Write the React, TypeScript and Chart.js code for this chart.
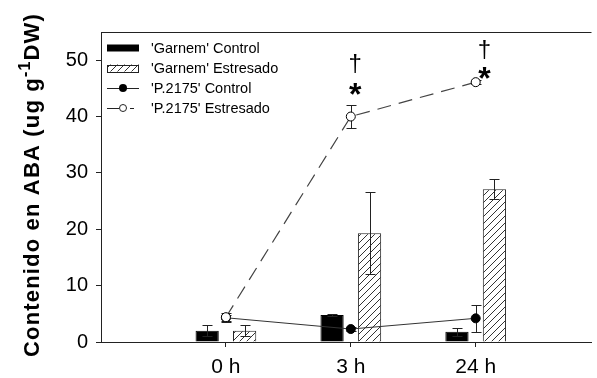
import React, { useEffect, useRef } from 'react';
import { Chart, registerables } from 'chart.js';
Chart.register(...registerables);

// ---- data ----
const xPositions = [1, 2, 3];
const xLabels = ['0 h', '3 h', '24 h'];
const yTickValues = [0, 10, 20, 30, 40, 50];
const seriesLabels = ["'Garnem' Control", "'Garnem' Estresado", "'P.2175' Control", "'P.2175' Estresado"];
const garnemControl = [2.0, 4.8, 1.8];
const garnemControlErr = [1.0, 0.2, 0.7];
const garnemStress = [2.0, 19.3, 27.1];
const garnemStressErr = [1.0, 7.3, 1.8];
const p2175Control = [4.3, 2.3, 4.2];
const p2175ControlErr = [0.5, 0.3, 2.4];
const p2175Stress = [4.4, 40.0, 46.1];
const p2175StressErr = [0.8, 2.1, 0.4];
const annotX = [2.035, 3.07];
const starY = [45.0, 47.9];
const daggerY = [49.3, 51.8];
const yTitleMain = 'Contenido en ABA (ug g';
const yTitleSup = '-1';
const yTitleEnd = 'DW)';

const FONT = '"Liberation Sans", Arial, sans-serif';
const INK = '#222';

function makeHatch(): CanvasPattern | string {
  const s = 7;
  const c = document.createElement('canvas');
  c.width = s;
  c.height = s;
  const g = c.getContext('2d');
  if (!g) return '#fff';
  g.fillStyle = '#fff';
  g.fillRect(0, 0, s, s);
  g.strokeStyle = '#333';
  g.lineWidth = 1;
  g.beginPath();
  g.moveTo(0, s);
  g.lineTo(s, 0);
  g.moveTo(-1, 1);
  g.lineTo(1, -1);
  g.moveTo(s - 1, s + 1);
  g.lineTo(s + 1, s - 1);
  g.stroke();
  return g.createPattern(c, 'repeat') || '#fff';
}

function drawErr(ctx: CanvasRenderingContext2D, chart: any, meta: any, errs: number[], vals: number[]) {
  const y = chart.scales.y;
  ctx.save();
  ctx.strokeStyle = INK;
  ctx.lineWidth = 1;
  meta.data.forEach((el: any, i: number) => {
    const e = errs[i];
    if (!e) return;
    const x = Math.round(el.x) + 0.5;
    const t = Math.round(y.getPixelForValue(vals[i] + e)) + 0.5;
    const b = Math.round(y.getPixelForValue(vals[i] - e)) + 0.5;
    ctx.beginPath();
    ctx.moveTo(x, t);
    ctx.lineTo(x, b);
    ctx.moveTo(x - 5, t);
    ctx.lineTo(x + 5, t);
    ctx.moveTo(x - 5, b);
    ctx.lineTo(x + 5, b);
    ctx.stroke();
  });
  ctx.restore();
}

const errorPlugin = {
  id: 'errbars',
  beforeDatasetDraw(chart: any, args: any) {
    const ds = chart.data.datasets[args.index];
    if (ds.type === 'line') drawErr(chart.ctx, chart, args.meta, ds.errors, ds.vals);
  },
  afterDatasetDraw(chart: any, args: any) {
    const ds = chart.data.datasets[args.index];
    if (ds.type !== 'line') drawErr(chart.ctx, chart, args.meta, ds.errors, ds.vals);
  },
};

const decorPlugin = {
  id: 'decor',
  afterDraw(chart: any) {
    const ctx: CanvasRenderingContext2D = chart.ctx;
    const a = chart.chartArea;
    const xs = chart.scales.x;
    const ys = chart.scales.y;
    ctx.save();
    // top frame line
    ctx.strokeStyle = INK;
    ctx.lineWidth = 1;
    ctx.beginPath();
    ctx.moveTo(a.left, Math.round(a.top) + 0.5);
    ctx.lineTo(a.right, Math.round(a.top) + 0.5);
    ctx.stroke();

    // annotations
    ctx.fillStyle = '#000';
    ctx.textAlign = 'center';
    ctx.textBaseline = 'middle';
    annotX.forEach((xv, i) => {
      const px = xs.getPixelForValue(xv);
      ctx.font = `bold 32px ${FONT}`;
      ctx.fillText('*', px, ys.getPixelForValue(starY[i]) + 8);
      ctx.font = `24px ${FONT}`;
      ctx.fillText('†', px, ys.getPixelForValue(daggerY[i]));
    });

    // legend
    const lx0 = a.left + 6;
    const lx1 = a.left + 38;
    const tx = a.left + 50;
    const rows = [a.top + 16, a.top + 36, a.top + 56, a.top + 76];
    ctx.font = `14.5px ${FONT}`;
    ctx.textAlign = 'left';
    ctx.textBaseline = 'middle';
    rows.forEach((ry, i) => {
      ctx.fillStyle = '#000';
      ctx.fillText(seriesLabels[i], tx, ry + 1);
    });
    // row 0: black box
    ctx.fillStyle = '#000';
    ctx.fillRect(lx0, rows[0] - 3.5, lx1 - lx0, 7);
    // row 1: hatched box
    ctx.fillStyle = chart.data.datasets[3].backgroundColor;
    ctx.fillRect(lx0, rows[1] - 3.5, lx1 - lx0, 7);
    ctx.strokeStyle = INK;
    ctx.strokeRect(lx0 + 0.5, Math.round(rows[1] - 3.5) + 0.5, lx1 - lx0 - 1, 7);
    // row 2: solid line with filled dot
    const cx = (lx0 + lx1) / 2;
    ctx.beginPath();
    ctx.moveTo(lx0, Math.round(rows[2]) + 0.5);
    ctx.lineTo(lx1, Math.round(rows[2]) + 0.5);
    ctx.stroke();
    ctx.beginPath();
    ctx.arc(cx, rows[2], 4, 0, Math.PI * 2);
    ctx.fillStyle = '#000';
    ctx.fill();
    // row 3: dashed line with open circle
    ctx.beginPath();
    ctx.moveTo(lx0, Math.round(rows[3]) + 0.5);
    ctx.lineTo(cx - 4, Math.round(rows[3]) + 0.5);
    ctx.moveTo(cx + 7, Math.round(rows[3]) + 0.5);
    ctx.lineTo(cx + 11, Math.round(rows[3]) + 0.5);
    ctx.stroke();
    ctx.beginPath();
    ctx.arc(cx, rows[3], 3.5, 0, Math.PI * 2);
    ctx.fillStyle = '#fff';
    ctx.fill();
    ctx.stroke();

    // y title
    ctx.translate(39, 185);
    ctx.rotate(-Math.PI / 2);
    ctx.fillStyle = '#000';
    ctx.textBaseline = 'alphabetic';
    const big = `bold 22px ${FONT}`;
    const small = `bold 16px ${FONT}`;
    ctx.font = big;
    const w1 = ctx.measureText(yTitleMain).width;
    const w3 = ctx.measureText(yTitleEnd).width;
    ctx.font = small;
    const w2 = ctx.measureText(yTitleSup).width;
    const total = w1 + w2 + w3;
    const spacing = Math.max(0, (344 - total) / (yTitleMain.length + yTitleEnd.length + 2));
    let x = -172;
    const drawSpaced = (s: string, font: string, dy: number) => {
      ctx.font = font;
      for (const ch of s) {
        ctx.fillText(ch, x, dy);
        x += ctx.measureText(ch).width + spacing;
      }
    };
    drawSpaced(yTitleMain, big, 0);
    drawSpaced(yTitleSup, small, -9);
    drawSpaced(yTitleEnd, big, 0);
    ctx.restore();
  },
};

export default function App() {
  const ref = useRef<HTMLCanvasElement>(null);
  useEffect(() => {
    if (!ref.current) return;
    const hatch = makeHatch();
    const pts = (vals: number[]) => xPositions.map((x, i) => ({ x, y: vals[i] }));
    const chart = new Chart(ref.current, {
      type: 'bar',
      data: {
        datasets: [
          {
            type: 'line',
            label: seriesLabels[3],
            data: pts(p2175Stress),
            errors: p2175StressErr,
            vals: p2175Stress,
            borderColor: '#444',
            borderWidth: 1.2,
            borderDash: [14, 8],
            pointRadius: 4.5,
            pointBackgroundColor: '#fff',
            pointBorderColor: '#000',
            pointBorderWidth: 1,
            order: 0,
          } as any,
          {
            type: 'line',
            label: seriesLabels[2],
            data: pts(p2175Control),
            errors: p2175ControlErr,
            vals: p2175Control,
            borderColor: '#333',
            borderWidth: 1,
            pointRadius: 4.5,
            pointBackgroundColor: '#000',
            pointBorderColor: '#000',
            pointBorderWidth: 1,
            order: 0,
          } as any,
          {
            type: 'bar',
            label: seriesLabels[0],
            data: pts(garnemControl),
            errors: garnemControlErr,
            vals: garnemControl,
            backgroundColor: '#000',
            borderColor: '#000',
            borderWidth: 1,
            categoryPercentage: 0.6,
            barPercentage: 0.62,
            order: 1,
          } as any,
          {
            type: 'bar',
            label: seriesLabels[1],
            data: pts(garnemStress),
            errors: garnemStressErr,
            vals: garnemStress,
            backgroundColor: hatch,
            borderColor: INK,
            borderWidth: 1,
            categoryPercentage: 0.6,
            barPercentage: 0.62,
            order: 1,
          } as any,
        ],
      },
      options: {
        responsive: false,
        animation: false,
        devicePixelRatio: 1,
        layout: { padding: { top: 32, right: 0, left: 0, bottom: 0 } },
        plugins: { legend: { display: false }, tooltip: { enabled: false } },
        scales: {
          x: {
            type: 'linear',
            min: 0,
            max: 496 / 126.3,
            offset: false,
            afterBuildTicks: (s: any) => {
              s.ticks = xPositions.map((v) => ({ value: v }));
            },
            afterFit: (s: any) => {
              s.height = 36;
            },
            ticks: {
              autoSkip: false,
              maxRotation: 0,
              padding: 8,
              color: '#000',
              font: { family: FONT, size: 21 },
              callback: (v: any) => {
                const i = xPositions.indexOf(Number(v));
                return i >= 0 ? xLabels[i] : '';
              },
            },
            grid: { offset: false, drawOnChartArea: false, drawTicks: true, tickLength: 5, color: INK },
            border: { display: true, color: INK, width: 1 },
          },
          y: {
            type: 'linear',
            min: 0,
            max: 55,
            afterBuildTicks: (s: any) => {
              s.ticks = yTickValues.map((v) => ({ value: v }));
            },
            afterFit: (s: any) => {
              s.width = 101;
            },
            ticks: {
              padding: 8,
              color: '#000',
              font: { family: FONT, size: 20 },
            },
            grid: { drawOnChartArea: false, drawTicks: true, tickLength: 5, color: INK },
            border: { display: true, color: INK, width: 1 },
          },
        },
      } as any,
      plugins: [errorPlugin, decorPlugin],
    });
    return () => chart.destroy();
  }, []);
  return (
    <div style={{ position: 'fixed', left: 0, top: 0, width: 597, height: 378, background: '#fff' }}>
      <canvas ref={ref} width={597} height={378} style={{ display: 'block' }} />
    </div>
  );
}
